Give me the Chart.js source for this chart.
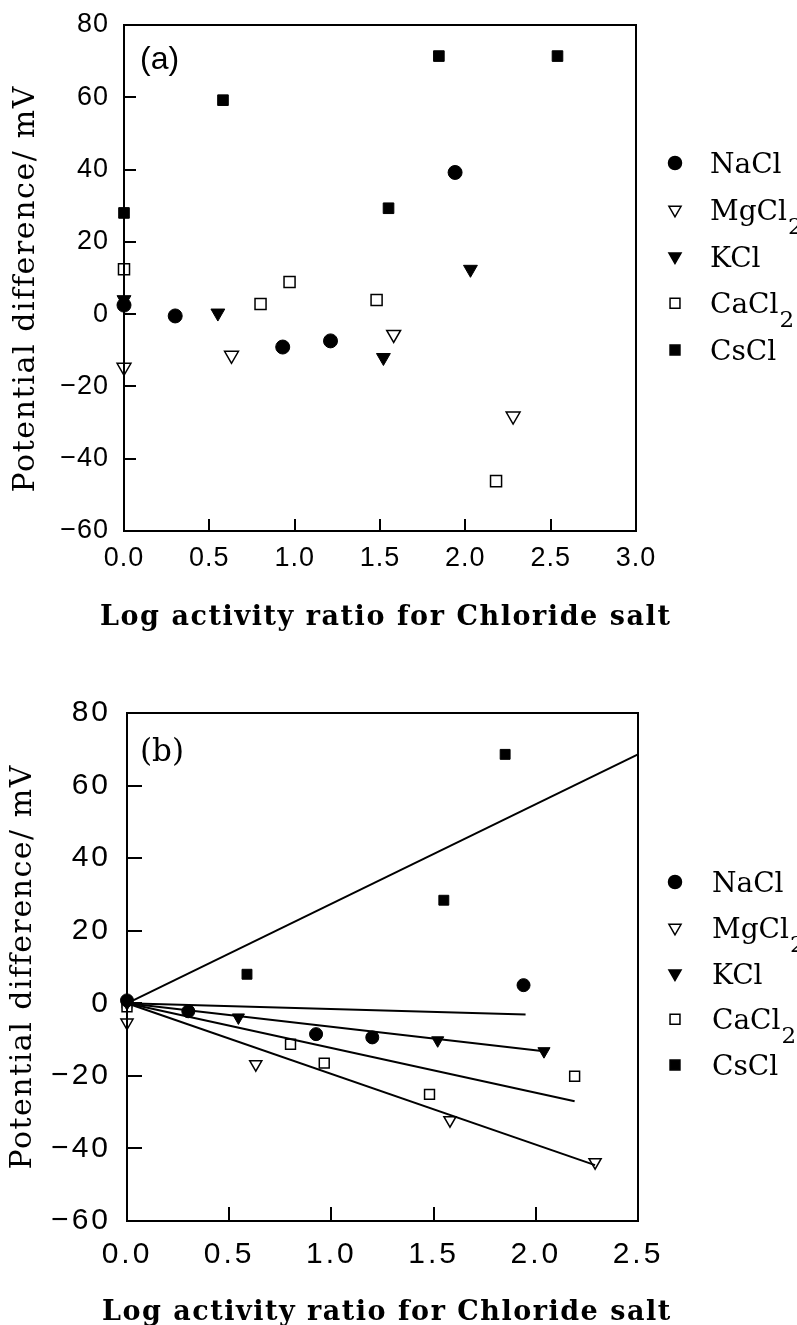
<!DOCTYPE html>
<html>
<head>
<meta charset="utf-8">
<title>Potential difference vs log activity ratio</title>
<script src="https://cdn.jsdelivr.net/npm/chart.js@4.4.1/dist/chart.umd.min.js"></script>
<style>
  html, body { margin: 0; padding: 0; background: #fff; }
  .panel { position: absolute; left: 0; width: 797px; }
  #panelA { top: 0; height: 650px; }
  #panelB { top: 650px; height: 675px; }
</style>
</head>
<body>
<div class="panel" id="panelA"><canvas id="chartA" width="797" height="650"></canvas></div>
<div class="panel" id="panelB"><canvas id="chartB" width="797" height="675"></canvas></div>
<script>
/* ===============================
   Data
================================*/
const salts = ["NaCl", "MgCl2", "KCl", "CaCl2", "CsCl"];
const xTitle = "Log activity ratio for Chloride salt";
const yTitle = "Potential difference/ mV";
const yTicks = [-60, -40, -20, 0, 20, 40, 60, 80];
const xTicksA = [0, 0.5, 1.0, 1.5, 2.0, 2.5, 3.0];
const xTicksB = [0, 0.5, 1.0, 1.5, 2.0, 2.5];

// (a) measured potentials
const naclA_x = [0, 0.30, 0.93, 1.21, 1.94];
const naclA_y = [2.5, -0.5, -9.1, -7.4, 39.2];
const mgcl2A_x = [0, 0.63, 1.58, 2.28];
const mgcl2A_y = [-14.7, -11.4, -5.6, -28.2];
const kclA_x = [0, 0.55, 1.52, 2.03];
const kclA_y = [4.0, 0.3, -12.0, 12.4];
const cacl2A_x = [0, 0.80, 0.97, 1.48, 2.18];
const cacl2A_y = [12.4, 2.8, 8.9, 3.9, -46.2];
const csclA_x = [0, 0.58, 1.55, 1.845, 2.54];
const csclA_y = [28.0, 59.2, 29.3, 71.4, 71.4];

// (b) corrected potentials
const naclB_x = [0, 0.30, 0.925, 1.20, 1.94];
const naclB_y = [0.8, -2.2, -8.5, -9.4, 5.0];
const mgcl2B_x = [0, 0.63, 1.58, 2.29];
const mgcl2B_y = [-5.3, -16.8, -32.2, -43.8];
const kclB_x = [0, 0.545, 1.52, 2.04];
const kclB_y = [0, -3.9, -10.2, -13.2];
const cacl2B_x = [0, 0.80, 0.965, 1.48, 2.19];
const cacl2B_y = [-1.0, -11.3, -16.5, -25.1, -20.1];
const csclB_x = [0, 0.587, 1.55, 1.85];
const csclB_y = [0, 8.0, 28.4, 68.6];

// (b) fitted lines, all from the origin (same salt order)
const fitEnd_x = [1.95, 2.29, 2.04, 2.19, 2.5];
const fitEnd_y = [-3.1, -44.6, -13.2, -27.0, 68.6];

/* ===============================
   Marker styles per salt
================================*/
const markerShape = ["circle", "triangle", "triangle", "rect", "rect"];
const markerRotation = [0, 180, 180, 0, 0];
const markerFilled = [true, false, true, false, true];

const SERIF = "'DejaVu Serif', 'Liberation Serif', serif";
const SANS = "'Liberation Sans', Arial, sans-serif";

function toPoints(xs, ys) {
  return xs.map((x, i) => ({ x: x, y: ys[i] }));
}

// draw text stretched to a given span (letter spacing)
function spreadText(ctx, text, cx, y, span) {
  ctx.letterSpacing = "0px";
  const w = ctx.measureText(text).width;
  const gap = (span - w) / (text.length - 1);
  ctx.letterSpacing = gap.toFixed(2) + "px";
  ctx.textAlign = "left";
  ctx.fillText(text, cx - span / 2, y);
  ctx.letterSpacing = "0px";
}

// position of a value along a scale, from the scale's range and pixel extent
function scalePos(scale, v) {
  const f = (v - scale.min) / (scale.max - scale.min);
  return scale.isHorizontal()
    ? scale.left + f * (scale.right - scale.left)
    : scale.bottom - f * (scale.bottom - scale.top);
}

/* ===============================
   Plugins: frame + inward ticks, titles + legend
================================*/
function framePlugin(p) {
  return {
    id: "frame",
    beforeDraw(chart) {
      chart.ctx.letterSpacing = p.tickSpacing;
    },
    afterDraw(chart) {
      const ctx = chart.ctx;
      const a = chart.chartArea;
      const sx = chart.scales.x, sy = chart.scales.y;
      ctx.save();
      ctx.letterSpacing = "0px";
      ctx.fillStyle = "#000";
      ctx.strokeStyle = "#000";
      ctx.lineWidth = 2;
      ctx.strokeRect(a.left, a.top, a.right - a.left, a.bottom - a.top);

      // inward tick marks at the inner tick values
      for (let i = 1; i < p.xTicks.length - 1; i++) {
        const px = Math.round(scalePos(sx, p.xTicks[i]));
        ctx.fillRect(px - 1, a.bottom - p.xTick, 2, p.xTick);
      }
      for (let i = 1; i < yTicks.length - 1; i++) {
        const py = Math.round(scalePos(sy, yTicks[i]));
        ctx.fillRect(a.left, py - 1, p.yTick, 2);
      }
      ctx.restore();
    }
  };
}

function textPlugin(o) {
  return {
    id: "panelText",
    afterDraw(chart) {
      const ctx = chart.ctx;
      ctx.save();
      ctx.letterSpacing = "0px";
      ctx.fillStyle = "#000";

      // panel tag
      ctx.font = o.tagFont;
      ctx.textAlign = "left";
      ctx.textBaseline = "middle";
      ctx.fillText(o.tag, o.tagX, o.tagY);

      // x axis title
      ctx.font = "bold 27px " + SERIF;
      ctx.textBaseline = "alphabetic";
      spreadText(ctx, xTitle, o.xTitleX, o.xTitleY, o.xTitleSpan);

      // y axis title
      ctx.save();
      ctx.translate(o.yTitleX, o.yTitleY);
      ctx.rotate(-Math.PI / 2);
      ctx.font = "30px " + SERIF;
      ctx.textBaseline = "middle";
      spreadText(ctx, yTitle, 0, 0, o.yTitleSpan);
      ctx.restore();

      // legend
      salts.forEach((name, i) => {
        const ly = o.legendTop + i * o.legendGap;
        ctx.fillStyle = markerFilled[i] ? "#000" : "#fff";
        ctx.strokeStyle = "#000";
        ctx.lineWidth = 1.5;
        Chart.helpers.drawPoint(ctx, {
          pointStyle: markerShape[i],
          rotation: markerRotation[i],
          radius: o.legendRadius[i],
          borderWidth: 1.5
        }, o.legendX, ly);

        const m = name.match(/^(.*?)(\d*)$/);
        ctx.fillStyle = "#000";
        ctx.textAlign = "left";
        ctx.textBaseline = "alphabetic";
        ctx.font = "28px " + SERIF;
        ctx.fillText(m[1], o.legendTextX, ly + 10);
        if (m[2]) {
          const w = ctx.measureText(m[1]).width;
          ctx.font = "23px " + SERIF;
          ctx.fillText(m[2], o.legendTextX + w + 1, ly + 24);
        }
      });
      ctx.restore();
    }
  };
}

/* ===============================
   Chart builder
================================*/
function buildPanel(canvasId, p) {
  const datasets = [];

  (p.fits || []).forEach(f => {
    datasets.push({
      data: f,
      showLine: true,
      borderColor: "#000",
      borderWidth: 2,
      pointRadius: 0,
      clip: false
    });
  });

  p.series.forEach((s, i) => {
    datasets.push({
      label: salts[i],
      data: toPoints(s[0], s[1]),
      showLine: false,
      pointStyle: markerShape[i],
      rotation: markerRotation[i],
      pointRadius: p.radius[i],
      pointHoverRadius: p.radius[i],
      pointBackgroundColor: markerFilled[i] ? "#000" : "#fff",
      pointBorderColor: "#000",
      pointBorderWidth: markerFilled[i] ? 1 : 1.5,
      clip: false
    });
  });

  return new Chart(document.getElementById(canvasId), {
    type: "scatter",
    data: { datasets: datasets },
    options: {
      responsive: false,
      animation: false,
      events: [],
      layout: { padding: p.padding },
      plugins: {
        legend: { display: false },
        tooltip: { enabled: false }
      },
      scales: {
        x: {
          type: "linear",
          min: p.xTicks[0],
          max: p.xTicks[p.xTicks.length - 1],
          afterBuildTicks: s => { s.ticks = p.xTicks.map(v => ({ value: v })); },
          grid: { display: false, drawTicks: false },
          border: { display: false },
          ticks: {
            autoSkip: false,
            maxRotation: 0,
            padding: p.xPad,
            color: "#000",
            font: { family: SANS, size: p.tickSize },
            callback: v => Number(v).toFixed(1)
          },
          afterFit: s => {
            s.height = 80;
            s.paddingLeft = 0;
            s.paddingRight = 0;
          }
        },
        y: {
          type: "linear",
          min: yTicks[0],
          max: yTicks[yTicks.length - 1],
          afterBuildTicks: s => { s.ticks = yTicks.map(v => ({ value: v })); },
          grid: { display: false, drawTicks: false },
          border: { display: false },
          ticks: {
            padding: p.yPad,
            color: "#000",
            font: { family: SANS, size: p.tickSize },
            callback: v => (v < 0 ? "\u2212" + Math.abs(v) : String(v))
          },
          afterFit: s => {
            s.width = p.yWidth;
            s.paddingTop = 0;
            s.paddingBottom = 0;
          }
        }
      }
    },
    plugins: [framePlugin(p), textPlugin(p.text)]
  });
}

/* ===============================
   (a) raw potentials
================================*/
buildPanel("chartA", {
  xTicks: xTicksA,
  series: [
    [naclA_x, naclA_y],
    [mgcl2A_x, mgcl2A_y],
    [kclA_x, kclA_y],
    [cacl2A_x, cacl2A_y],
    [csclA_x, csclA_y]
  ],
  radius: [7, 8, 8, 7.8, 7.5],
  padding: { left: 0, top: 25, right: 161, bottom: 39 },
  yWidth: 124,
  tickSize: 27,
  tickSpacing: "1px",
  xPad: 11,
  yPad: 15,
  xTick: 12,
  yTick: 12,
  text: {
    tag: "(a)", tagFont: "32px " + SANS, tagX: 140, tagY: 60,
    xTitleX: 385, xTitleY: 625, xTitleSpan: 570,
    yTitleX: 26, yTitleY: 290, yTitleSpan: 405,
    legendX: 675, legendTextX: 710, legendTop: 163, legendGap: 46.75,
    legendRadius: [6.5, 7, 7, 7, 7]
  }
});

/* ===============================
   (b) corrected potentials + fits
================================*/
buildPanel("chartB", {
  xTicks: xTicksB,
  series: [
    [naclB_x, naclB_y],
    [mgcl2B_x, mgcl2B_y],
    [kclB_x, kclB_y],
    [cacl2B_x, cacl2B_y],
    [csclB_x, csclB_y]
  ],
  fits: fitEnd_x.map((x, i) => [{ x: 0, y: 0 }, { x: x, y: fitEnd_y[i] }]),
  radius: [6.5, 7, 7, 7, 7],
  padding: { left: 0, top: 63, right: 159, bottom: 24 },
  yWidth: 127,
  tickSize: 30,
  tickSpacing: "3px",
  xPad: 16,
  yPad: 16,
  xTick: 14,
  yTick: 15,
  text: {
    tag: "(b)", tagFont: "31px " + SERIF, tagX: 140, tagY: 103,
    xTitleX: 386, xTitleY: 670, xTitleSpan: 568,
    yTitleX: 23, yTitleY: 318, yTitleSpan: 403,
    legendX: 675, legendTextX: 712, legendTop: 232, legendGap: 45.75,
    legendRadius: [6.5, 7, 7, 7, 7]
  }
});
</script>
</body>
</html>
